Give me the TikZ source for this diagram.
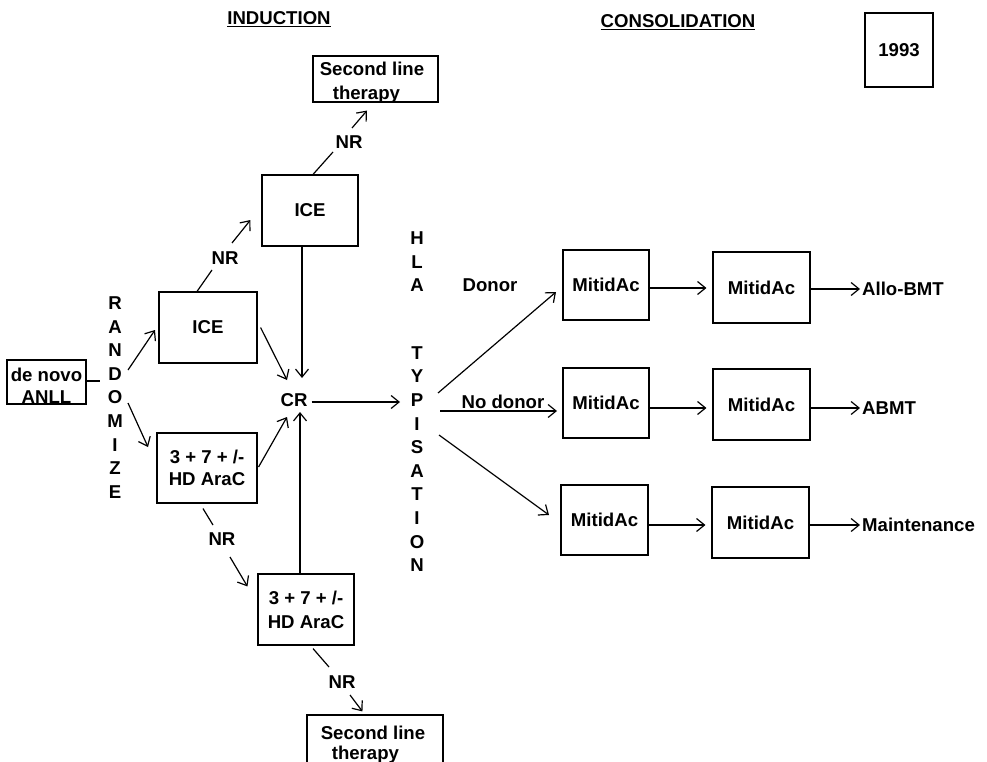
\documentclass[tikz,border=0pt]{standalone}
\usepackage{fontspec}
\setmainfont{Liberation Sans}
\usetikzlibrary{arrows.meta}
\begin{document}
\begin{tikzpicture}[x=1pt,y=-1pt,
  every node/.style={font=\fontsize{18.6}{22}\selectfont\bfseries},
  box/.style={draw, line width=1.1pt, inner sep=0pt, align=center},
  txt/.style={inner sep=0pt, align=center},
  letters/.style={inner sep=0pt, align=center, font=\fontsize{18.6}{23.6}\selectfont\bfseries},
  arr/.style={line width=1.2pt, -{Straight Barb[length=8pt,width=13pt]}},
  ln/.style={line width=1.2pt}]
\useasboundingbox (0,0) rectangle (987,762);

% headings
\node[txt] (ind) at (279,19) {\underline{INDUCTION}};
\node[txt] (cons) at (678,22) {\underline{CONSOLIDATION}};
\node[box, minimum width=68pt, minimum height=74pt] (yr) at (899,50) {1993};

% induction boxes
\node[box, minimum width=79pt, minimum height=44pt] (novo) at (46.5,382) {};
\node[txt] (novot) at (46.5,386) {de novo\\ANLL};
\node[box, minimum width=98pt, minimum height=71pt] (ice1) at (208,327.5) {ICE};
\node[box, minimum width=96pt, minimum height=71pt] (ice2) at (310,210.5) {ICE};
\node[box, minimum width=100pt, minimum height=70pt] (ara1) at (207,468) {3 + 7 + /-\\HD AraC};
\node[box, minimum width=96pt, minimum height=71pt, font=\fontsize{18.6}{24}\selectfont\bfseries] (ara2) at (306,609.5) {3 + 7 + /-\\HD AraC};
\node[box, minimum width=125pt, minimum height=46pt] (sl1) at (375.5,79) {};
\node[txt, align=left, font=\fontsize{18.6}{24}\selectfont\bfseries] (sl1t) at (372,83) {Second line\\\hspace*{13pt}therapy};
\node[box, minimum width=136pt, minimum height=60pt] (sl2) at (375,745) {};
\node[txt, align=left, font=\fontsize{18.6}{20}\selectfont\bfseries] (sl2t) at (373,745) {Second line\\\hspace*{11pt}therapy};

% vertical words
\node[letters] (rand) at (115,397.5) {R\\A\\N\\D\\O\\M\\I\\Z\\E};
\node[letters] (hla) at (417,262) {H\\L\\A};
\node[letters] (typ) at (417,459) {T\\Y\\P\\I\\S\\A\\T\\I\\O\\N};
\node[txt] (cr) at (294,400) {CR};

% NR labels
\node[txt] (nr1) at (225,258) {NR};
\node[txt] (nr2) at (349,142) {NR};
\node[txt] (nr3) at (222,539) {NR};
\node[txt] (nr4) at (342,682) {NR};

% consolidation
\node[txt] (donor) at (490,285) {Donor};
\node[txt] (nodonor) at (503,402) {No donor};
\node[box, minimum width=86pt, minimum height=70pt] (m11) at (606,285) {MitidAc};
\node[box, minimum width=97pt, minimum height=71pt] (m12) at (761.5,287.5) {MitidAc};
\node[box, minimum width=86pt, minimum height=70pt] (m21) at (606,403) {MitidAc};
\node[box, minimum width=97pt, minimum height=71pt] (m22) at (761.5,404.5) {MitidAc};
\node[box, minimum width=87pt, minimum height=70pt] (m31) at (604.5,520) {MitidAc};
\node[box, minimum width=97pt, minimum height=71pt] (m32) at (760.5,522.5) {MitidAc};
\node[txt, anchor=west] (allo) at (862,289) {Allo-BMT};
\node[txt, anchor=west] (abmt) at (862,408) {ABMT};
\node[txt, anchor=west] (maint) at (862,525) {Maintenance};

% free ends of connectors
\coordinate (rd0) at (100,381);
\coordinate (ra1) at (128,370);
\coordinate (ra1e) at (155,330);
\coordinate (ra2) at (128,403);
\coordinate (ra2e) at (148,447);
\coordinate (cra) at (287,380);
\coordinate (crb) at (287,417);
\coordinate (crt) at (302,378);
\coordinate (crd) at (300,412);
\coordinate (hin) at (400,402);
\coordinate (h1) at (438,393);
\coordinate (h1e) at (556,292);
\coordinate (h2) at (440,411);
\coordinate (h2e) at (557,411);
\coordinate (h3) at (439,435);
\coordinate (h3e) at (549,515);

% connectors
\draw[ln] (novo.east |- rd0) -- (rd0);
\draw[arr] (ra1) -- (ra1e);
\draw[arr] (ra2) -- (ra2e);
\draw[arr] ([xshift=3pt]ice1.east) -- (cra);
\draw[arr] ([xshift=1pt,yshift=1pt]ara1.east) -- (crb);
\draw[arr] (ice2.south -| crt) -- (crt);
\draw[arr] (ara2.north -| crd) -- (crd);
\draw[arr] ([xshift=4pt]cr.east |- hin) -- (hin);
\draw[arr] (h1) -- (h1e);
\draw[arr] (h2) -- (h2e);
\draw[arr] (h3) -- (h3e);
\draw[arr] (m11.east |- 0,288) -- ([xshift=-6pt]m12.west |- 0,288);
\draw[arr] (m21.east |- 0,408) -- ([xshift=-6pt]m22.west |- 0,408);
\draw[arr] (m31.east |- 0,525) -- ([xshift=-6pt]m32.west |- 0,525);
\draw[arr] (m12.east |- allo.west) -- ([xshift=-2pt]allo.west);
\draw[arr] (m22.east |- abmt.west) -- ([xshift=-2pt]abmt.west);
\draw[arr] (m32.east |- maint.west) -- ([xshift=-2pt]maint.west);

% non-responder branches
\draw[ln] ([xshift=-11pt]ice1.north) -- ([xshift=-13pt,yshift=-12pt]nr1.center);
\draw[arr] ([xshift=7pt,yshift=15pt]nr1.center) -- ([xshift=-11pt,yshift=-9.5pt]ice2.west);
\draw[ln] ([xshift=3pt]ice2.north) -- ([xshift=-16pt,yshift=-10pt]nr2.center);
\draw[arr] ([xshift=3pt,yshift=14pt]nr2.center) -- ([xshift=-8.5pt,yshift=-8pt]sl1.south);
\draw[ln] ([xshift=-4pt,yshift=-5pt]ara1.south) -- ([xshift=-9pt,yshift=14pt]nr3.center);
\draw[arr] ([xshift=8pt,yshift=-18pt]nr3.center) -- ([xshift=-10pt,yshift=-13pt]ara2.north west);
\draw[ln] ([xshift=7pt,yshift=-3pt]ara2.south) -- ([xshift=-13pt,yshift=15pt]nr4.center);
\draw[arr] ([xshift=8pt,yshift=-13pt]nr4.center) -- ([xshift=56pt,yshift=3pt]sl2.north west);
\end{tikzpicture}
\end{document}
